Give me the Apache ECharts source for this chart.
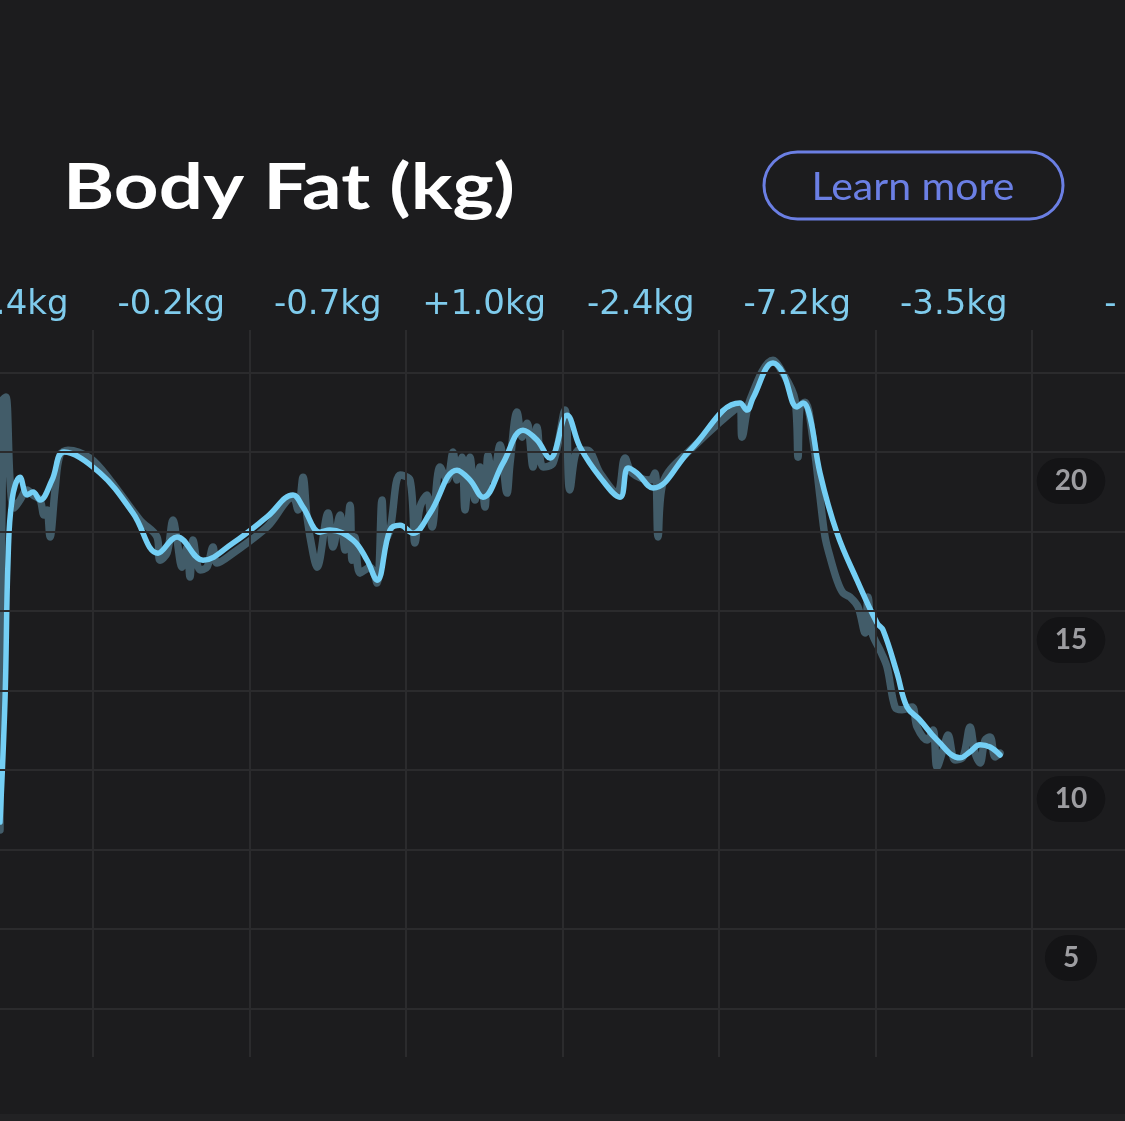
<!DOCTYPE html>
<html>
<head>
<meta charset="utf-8">
<script src="https://cdn.jsdelivr.net/npm/echarts@6/dist/echarts.min.js"></script>
<style>
html,body{margin:0;padding:0;background:#1c1c1e;}
#chart{width:1125px;height:1121px;}
</style>
</head>
<body>
<div id="chart"></div>
<script>
// x = day index (each column = 30 days), y = body fat in kg
const periodCenters = [15, 45, 75, 105, 135, 165, 195, 225];
const periodLabels = ['-0.4kg', '-0.2kg', '-0.7kg', '+1.0kg', '-2.4kg', '-7.2kg', '-3.5kg', '-'];
const periodBounds = [30, 60, 90, 120, 150, 180, 210];
const gridValues = [2.5, 5, 7.5, 10, 12.5, 15, 17.5, 20, 22.5];
const yTickLabels = [5, 10, 15, 20];

const rawDays = [12.17, 12.75, 13.32, 14.09, 14.86, 16.01, 17.35, 18.5, 19.84, 20.61, 21.18, 21.76, 22.72, 23.67, 25.21, 29.42, 33.26, 39.01, 42.27, 42.84, 44.19, 45.34, 46.1, 47.06, 48.02, 48.59, 49.17, 50.51, 51.85, 53.0, 53.77, 56.84, 63.35, 68.34, 69.3, 70.26, 71.02, 72.17, 72.94, 75.05, 76.01, 77.35, 78.31, 79.27, 79.65, 80.22, 81.18, 83.1, 84.44, 85.4, 85.97, 86.93, 88.85, 90.77, 91.72, 92.68, 94.02, 94.98, 96.52, 97.86, 99.01, 99.78, 100.73, 101.31, 102.27, 103.23, 104.18, 105.14, 105.72, 106.68, 108.02, 109.36, 109.94, 111.28, 112.24, 113.19, 114.34, 115.11, 116.26, 118.18, 120.48, 121.4, 122.97, 124.7, 127.19, 130.45, 131.98, 133.32, 136.77, 137.73, 138.31, 139.26, 144.44, 154.02, 154.41, 155.94, 160.35, 161.69, 164.57, 165.14, 165.53, 166.49, 168.02, 169.36, 170.32, 171.28, 172.62, 173.77, 175.11, 176.64, 177.98, 178.56, 179.33, 180.86, 182.2, 183.74, 185.08, 187.0, 187.96, 189.87, 191.02, 191.79, 192.94, 193.9, 195.24, 196.77, 198.11, 199.07, 200.03, 200.99, 201.95, 202.91, 203.87];
const rawValues = [8.11, 21.64, 21.73, 19.12, 18.24, 18.49, 18.81, 18.65, 18.49, 18.02, 18.18, 17.33, 18.81, 19.91, 20.06, 19.81, 19.12, 17.86, 17.33, 16.6, 16.82, 17.86, 17.23, 16.38, 17.01, 16.07, 17.23, 16.29, 16.38, 17.01, 16.51, 16.82, 17.64, 18.58, 18.18, 19.21, 17.96, 16.82, 16.38, 18.08, 17.01, 18.02, 16.92, 18.33, 16.6, 17.33, 16.19, 16.38, 15.88, 18.49, 17.23, 17.55, 19.28, 19.12, 17.14, 18.27, 18.65, 17.64, 19.53, 19.12, 20.0, 19.12, 19.84, 18.18, 19.84, 18.49, 19.53, 18.27, 19.91, 19.12, 20.22, 18.71, 19.65, 21.26, 20.47, 20.91, 19.53, 20.79, 19.53, 19.65, 21.32, 18.81, 20.06, 20.06, 19.34, 18.71, 19.81, 19.34, 19.12, 19.34, 17.33, 19.03, 20.06, 21.42, 20.47, 21.64, 22.89, 22.64, 21.64, 19.84, 21.42, 21.57, 20.38, 18.58, 17.33, 16.7, 15.97, 15.57, 15.44, 15.13, 14.31, 15.44, 14.31, 13.77, 13.24, 11.98, 11.89, 11.98, 11.35, 10.94, 11.26, 10.09, 10.63, 11.1, 10.31, 10.41, 11.35, 10.53, 10.22, 10.94, 11.04, 10.41, 10.53];

const trendDays = [12.17, 13.13, 13.71, 14.47, 16.01, 17.35, 18.5, 19.84, 22.14, 24.44, 31.34, 37.67, 42.46, 46.1, 51.09, 56.84, 63.35, 68.34, 70.26, 73.51, 75.43, 79.84, 82.52, 84.44, 86.93, 88.85, 91.34, 94.6, 99.78, 102.27, 104.76, 108.59, 112.43, 115.11, 117.6, 120.86, 123.35, 127.19, 131.02, 132.55, 134.28, 137.35, 144.44, 154.02, 155.37, 156.52, 160.35, 162.27, 164.95, 166.1, 167.44, 169.36, 172.62, 176.45, 180.29, 181.44, 184.12, 186.04, 188.53, 191.79, 196.2, 198.11, 200.03, 201.95, 203.87];
const trendValues = [8.36, 12.2, 16.6, 18.49, 19.21, 18.65, 18.74, 18.49, 19.12, 20.0, 19.34, 18.08, 16.82, 17.33, 16.6, 17.14, 17.96, 18.65, 18.27, 17.48, 17.55, 17.23, 16.6, 15.97, 17.55, 17.7, 17.45, 18.08, 19.43, 19.12, 18.58, 19.65, 20.69, 20.38, 19.81, 21.16, 20.16, 19.21, 18.58, 19.5, 19.34, 18.87, 20.06, 21.54, 21.32, 21.7, 22.8, 22.48, 21.42, 21.54, 21.1, 19.34, 17.45, 15.97, 14.62, 14.4, 13.05, 11.98, 11.57, 10.94, 10.38, 10.57, 10.79, 10.72, 10.47];

const X_MIN = 12.17, X_MAX = 227.82, Y_MIN = 0.97, Y_MAX = 23.84;

const chart = echarts.init(document.getElementById('chart'), null, {renderer: 'canvas'});
const gridLineStyle = {color: '#2b2b2d', width: 2, type: 'solid'};

const option = {
  backgroundColor: '#1c1c1e',
  animation: false,
  textStyle: {fontFamily: 'Lato'},
  graphic: [
    {type: 'text', x: 63, y: 188, scaleX: 1.22, style: {text: 'Body Fat (kg)', fill: '#ffffff', font: '700 64px Lato', verticalAlign: 'middle', align: 'left'}},
    {type: 'rect', shape: {x: 764, y: 152, width: 299, height: 67, r: 33.5}, style: {fill: 'none', stroke: '#6b7fe4', lineWidth: 3}},
    {type: 'text', x: 913, y: 188, scaleX: 1.08, style: {text: 'Learn more', fill: '#6b7fe4', font: '400 38px Lato', align: 'center', verticalAlign: 'middle'}},
    {type: 'rect', shape: {x: 0, y: 1114, width: 1125, height: 7}, style: {fill: '#222224'}}
  ],
  grid: {left: 0, right: 0, top: 330, bottom: 64, containLabel: false, outerBoundsMode: 'none'},
  xAxis: {
    type: 'value', min: X_MIN, max: X_MAX, position: 'top',
    axisLine: {show: false}, axisTick: {show: false}, splitLine: {show: false},
    axisLabel: {
      customValues: periodCenters,
      formatter: function (v) { const i = periodCenters.indexOf(v); return i >= 0 ? periodLabels[i] : ''; },
      color: '#7fcbec', fontSize: 34, fontFamily: 'DejaVu Sans', margin: 8
    }
  },
  yAxis: {
    type: 'value', min: Y_MIN, max: Y_MAX, position: 'right',
    axisLine: {show: false}, axisTick: {show: false}, splitLine: {show: false},
    axisLabel: {
      inside: true, margin: 54, align: 'center', verticalAlign: 'top', padding: [15, 0, 0, 0],
      customValues: yTickLabels,
      formatter: '{p|{value}}',
      rich: {p: {backgroundColor: '#141416', borderRadius: 23, padding: [9, 18, 9, 18], fontSize: 28, lineHeight: 28, color: '#9d9da1', fontFamily: 'Lato', fontWeight: 700}}
    }
  },
  series: [
    {
      type: 'line', data: [], silent: true, z: 1,
      markLine: {
        silent: true, symbol: ['none', 'none'], label: {show: false}, animation: false,
        lineStyle: gridLineStyle,
        data: gridValues.map(v => ({yAxis: v})).concat(periodBounds.map(v => ({xAxis: v})))
      }
    },
    {
      name: 'Raw', type: 'line', z: 2, showSymbol: false, smooth: 0.35,
      data: rawDays.map((d, i) => [d, rawValues[i]]),
      lineStyle: {color: '#425c69', width: 7.5, cap: 'round', join: 'round'}
    },
    {
      name: 'Trend', type: 'line', z: 3, showSymbol: false, smooth: 0.4,
      data: trendDays.map((d, i) => [d, trendValues[i]]),
      lineStyle: {color: '#74cff5', width: 5.5, cap: 'round', join: 'round'}
    }
  ]
};
chart.setOption(option);
</script>
</body>
</html>
